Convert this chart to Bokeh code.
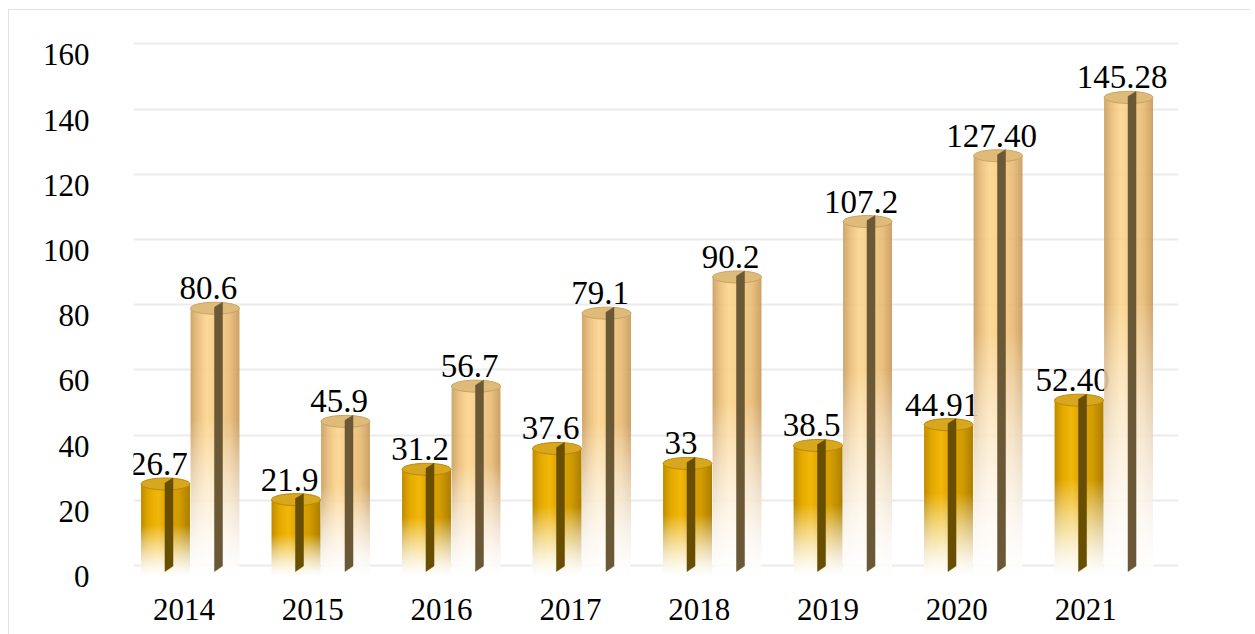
import numpy as np
from bokeh.plotting import figure
from bokeh.models import Range1d, LinearAxis, FixedTicker, Grid
from bokeh.core.properties import value
from bokeh.embed import file_html
from bokeh.resources import INLINE

# ---------------- data ----------------
years = ["2014", "2015", "2016", "2017", "2018", "2019", "2020", "2021"]
series_a = [26.7, 21.9, 31.2, 37.6, 33.0, 38.5, 44.91, 52.40]
series_b = [80.6, 45.9, 56.7, 79.1, 90.2, 107.2, 127.40, 145.28]
labels_a = ["26.7", "21.9", "31.2", "37.6", "33", "38.5", "44.91", "52.40"]
labels_b = ["80.6", "45.9", "56.7", "79.1", "90.2", "107.2", "127.40", "145.28"]
y_ticks = [0, 20, 40, 60, 80, 100, 120, 140, 160]

# ---------------- layout constants ----------------
PX_PER_UNIT = 3.26
FONT = "Liberation Serif"
FS = "31px"
FS_VAL = "33px"
BAR_W = 0.38
SPREAD = 1.0132          # perspective drift of bars versus category labels
OFF_A, OFF_B = -0.1436, 0.2407
BOTTOM = -1.8

p = figure(width=1242, height=625,
           x_range=Range1d(-0.392, 7.721),
           y_range=Range1d(-6.595, 168.87),
           output_backend="svg", toolbar_location=None,
           y_axis_location=None,
           min_border_left=125, min_border_right=72,
           min_border_top=11, min_border_bottom=42)
p.outline_line_color = None
p.background_fill_color = "white"
p.border_fill_color = "white"
p.styles = {"margin-left": "8px", "margin-top": "9px",
            "outline": "2px solid #d9d9d9", "outline-offset": "-2px"}

p.extra_y_ranges = {"lab": Range1d(-4.908, 170.55), "grid": Range1d(-8.282, 167.18)}

p.xgrid.visible = False
p.ygrid.visible = False
grid = Grid(dimension=1, ticker=FixedTicker(ticks=y_ticks), y_range_name="grid",
            grid_line_color="#ebebeb", grid_line_width=2)
p.add_layout(grid)

yax = LinearAxis(y_range_name="lab", ticker=FixedTicker(ticks=y_ticks),
                 axis_line_color=None, major_tick_line_color=None,
                 minor_tick_line_color=None, major_tick_out=0, major_tick_in=0,
                 major_label_standoff=44,
                 major_label_text_font=FONT, major_label_text_font_size=FS,
                 major_label_text_color="black")
p.add_layout(yax, "left")

xax = p.xaxis[0]
xax.ticker = FixedTicker(ticks=list(range(len(years))))
xax.major_label_overrides = {i: y for i, y in enumerate(years)}
xax.axis_line_color = None
xax.major_tick_line_color = None
xax.minor_tick_line_color = None
xax.major_tick_out = 0
xax.major_tick_in = 0
xax.major_label_standoff = 6
xax.major_label_text_font = FONT
xax.major_label_text_font_size = FS
xax.major_label_text_color = "black"


def texture(v, stops_u, stops_c, fade_frac, gamma):
    H = max(int(round((v - BOTTOM) * PX_PER_UNIT)), 2)
    W = 48
    u = np.linspace(0, 1, W)
    sc = np.array(stops_c, dtype=float)
    base = np.stack([np.interp(u, stops_u, sc[:, k]) for k in range(3)], -1)
    r = np.arange(H) + 0.5
    f = np.clip(r / (fade_frac * H), 0, 1) ** gamma
    rgb = 255 * (1 - f)[:, None, None] + base[None, :, :] * f[:, None, None]
    img = np.zeros((H, W), dtype=np.uint32)
    view = img.view(np.uint8).reshape(H, W, 4)
    view[..., :3] = np.clip(rgb, 0, 255).astype(np.uint8)
    view[..., 3] = 255
    return img


light_u = [0.0, 0.15, 0.33, 0.5, 0.8, 1.0]
light_c = [(205, 160, 95), (235, 190, 120), (253, 214, 142), (248, 205, 132),
           (232, 186, 116), (198, 150, 85)]
dark_u = [0.0, 0.15, 0.35, 0.5, 0.75, 1.0]
dark_c = [(195, 143, 0), (228, 170, 0), (242, 184, 10), (226, 166, 0),
          (212, 158, 0), (172, 126, 0)]

series = [
    (series_a, labels_a, OFF_A, dark_u, dark_c, 0.55, 1.4, 1.0,
     "#d9a71e", "#b8890a", "#684e00"),
    (series_b, labels_b, OFF_B, light_u, light_c, 0.58, 1.5, 0.9,
     "#dfbb7a", "#c9a265", "#6b5836"),
]

for vals, labs, off, su, sc, ff, gm, alpha, top_fill, top_line, stripe_col in series:
    xc = [i * SPREAD + off for i in range(len(vals))]
    for x, v in zip(xc, vals):
        p.image_rgba(image=[texture(v, su, sc, ff, gm)], x=x - BAR_W / 2, y=BOTTOM,
                     dw=BAR_W, dh=v - BOTTOM, global_alpha=alpha)
    p.ellipse(x=xc, y=vals, width=BAR_W, height=12, height_units="screen",
              fill_color=top_fill, line_color=top_line, line_width=1)
    sw = 7.5 / 128.8
    u = 1 / PX_PER_UNIT
    xs = [[x - 0.004, x + sw, x + sw, x - 0.004] for x in xc]
    ys = [[v + 1 * u, v + 6 * u, 5 * u, -0.5 * u] for v in vals]
    p.patches(xs=xs, ys=ys, fill_color=stripe_col, line_color=stripe_col, line_width=0.5)
    p.text(x=xc, y=vals, text=labs, text_align="center", text_baseline="alphabetic",
           x_offset=-6.5, y_offset=-20, text_font=value(FONT), text_font_size=FS_VAL,
           text_color="black")

open("out.html", "w").write(file_html(p, INLINE))
